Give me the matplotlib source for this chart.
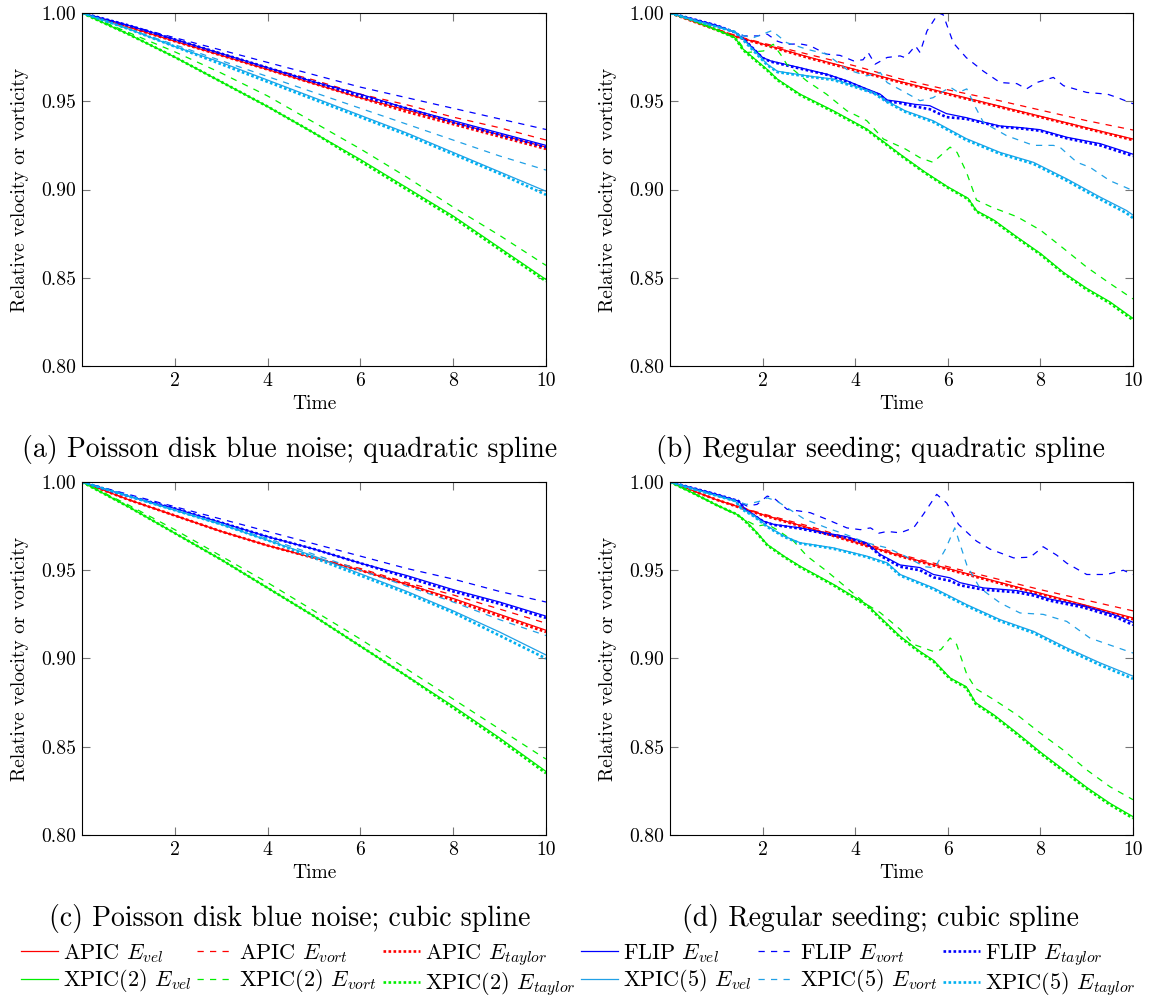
import matplotlib
matplotlib.use("Agg")
import matplotlib.pyplot as plt

plt.rcParams['font.family'] = 'serif'
plt.rcParams['font.serif'] = ['cmr10']
plt.rcParams['mathtext.fontset'] = 'cm'
plt.rcParams['axes.formatter.use_mathtext'] = True

# ---------------- data ----------------
T_SMOOTH = [0, 1, 2, 3, 4, 5, 6, 7, 8, 9, 10]

# (a) Poisson disk blue noise; quadratic spline
a_apic_vel = [1.0, 0.992, 0.984, 0.976, 0.968, 0.960, 0.952, 0.945, 0.938, 0.931, 0.924]
a_apic_vort = [1.0, 0.992, 0.985, 0.977, 0.969, 0.962, 0.954, 0.948, 0.941, 0.935, 0.928]
a_apic_taylor = [1.0, 0.992, 0.984, 0.976, 0.968, 0.960, 0.952, 0.944, 0.937, 0.930, 0.923]
a_flip_vel = [1.0, 0.993, 0.985, 0.977, 0.969, 0.961, 0.954, 0.946, 0.939, 0.932, 0.925]
a_flip_vort = [1.0, 0.993, 0.986, 0.979, 0.972, 0.965, 0.958, 0.952, 0.946, 0.940, 0.934]
a_flip_taylor = [1.0, 0.993, 0.985, 0.977, 0.969, 0.961, 0.953, 0.946, 0.938, 0.931, 0.924]
a_x2_vel = [1.0, 0.988, 0.975, 0.961, 0.947, 0.932, 0.917, 0.901, 0.885, 0.867, 0.849]
a_x2_vort = [1.0, 0.989, 0.978, 0.966, 0.953, 0.938, 0.923, 0.907, 0.890, 0.874, 0.857]
a_x2_taylor = [1.0, 0.988, 0.975, 0.961, 0.947, 0.932, 0.916, 0.900, 0.884, 0.866, 0.848]
a_x5_vel = [1.0, 0.991, 0.981, 0.972, 0.962, 0.952, 0.942, 0.932, 0.921, 0.910, 0.899]
a_x5_vort = [1.0, 0.991, 0.982, 0.973, 0.964, 0.955, 0.946, 0.937, 0.928, 0.919, 0.911]
a_x5_taylor = [1.0, 0.991, 0.981, 0.971, 0.961, 0.951, 0.941, 0.931, 0.920, 0.909, 0.897]

# (c) Poisson disk blue noise; cubic spline
c_apic_vel = [1.0, 0.990, 0.981, 0.972, 0.964, 0.957, 0.950, 0.942, 0.934, 0.925, 0.916]
c_apic_vort = [1.0, 0.990, 0.981, 0.972, 0.964, 0.957, 0.951, 0.943, 0.936, 0.928, 0.920]
c_apic_taylor = [1.0, 0.990, 0.981, 0.972, 0.964, 0.957, 0.950, 0.942, 0.933, 0.924, 0.915]
c_flip_vel = [1.0, 0.992, 0.985, 0.977, 0.969, 0.962, 0.954, 0.947, 0.939, 0.932, 0.924]
c_flip_vort = [1.0, 0.993, 0.986, 0.979, 0.972, 0.965, 0.958, 0.951, 0.945, 0.938, 0.932]
c_flip_taylor = [1.0, 0.992, 0.985, 0.977, 0.969, 0.962, 0.954, 0.946, 0.938, 0.931, 0.923]
c_x2_vel = [1.0, 0.986, 0.971, 0.956, 0.940, 0.924, 0.907, 0.890, 0.873, 0.855, 0.836]
c_x2_vort = [1.0, 0.987, 0.973, 0.958, 0.943, 0.927, 0.911, 0.894, 0.877, 0.860, 0.843]
c_x2_taylor = [1.0, 0.986, 0.971, 0.956, 0.940, 0.924, 0.907, 0.890, 0.872, 0.854, 0.835]
c_x5_vel = [1.0, 0.992, 0.984, 0.976, 0.967, 0.958, 0.948, 0.938, 0.927, 0.915, 0.902]
c_x5_vort = [1.0, 0.992, 0.984, 0.976, 0.968, 0.959, 0.950, 0.941, 0.932, 0.922, 0.913]
c_x5_taylor = [1.0, 0.992, 0.984, 0.976, 0.967, 0.957, 0.947, 0.937, 0.926, 0.913, 0.900]

# (b) Regular seeding; quadratic spline
b_apic_t = [0, 1, 1.5, 2, 3, 4, 5, 6, 7, 8, 9, 10]
b_apic_vel = [1.0, 0.9905, 0.986, 0.9825, 0.975, 0.968, 0.961, 0.9545, 0.948, 0.9415, 0.935, 0.9286]
b_apic_vort = [1.0, 0.991, 0.9865, 0.983, 0.9765, 0.970, 0.9625, 0.9565, 0.951, 0.945, 0.939, 0.9337]
b_apic_taylor = [1.0, 0.9905, 0.986, 0.9822, 0.9745, 0.9675, 0.9605, 0.954, 0.9475, 0.941, 0.9345, 0.928]

b_flip_t = [0, 0.5, 1, 1.41, 1.6, 2.0, 2.17, 2.81, 3.39, 3.82, 4.25, 4.54, 4.69, 4.97,
            5.3, 5.61, 5.97, 6.4, 6.8, 7.13, 7.6, 7.99, 8.57, 9.29, 10]
b_flip_vel = [1.0, 0.9965, 0.993, 0.989, 0.985, 0.9748, 0.9729, 0.969, 0.9653, 0.9616, 0.957,
              0.954, 0.9507, 0.9497, 0.9482, 0.9475, 0.943, 0.9407, 0.938, 0.936, 0.935,
              0.9339, 0.9296, 0.926, 0.920]
b_flip_taylor = [1.0, 0.9965, 0.993, 0.989, 0.985, 0.9745, 0.9725, 0.9685, 0.965, 0.9612, 0.9565,
                 0.9535, 0.950, 0.949, 0.947, 0.9455, 0.941, 0.940, 0.9375, 0.9355, 0.9345,
                 0.9333, 0.929, 0.925, 0.919]
b_flip_vort_t = [0, 0.5, 1, 1.41, 1.6, 1.88, 2.1, 2.32, 2.52, 2.81, 3.03, 3.38, 3.67, 3.96,
                 4.17, 4.28, 4.43, 4.69, 4.97, 5.08, 5.3, 5.4, 5.55, 5.8, 5.9, 6.12, 6.4,
                 6.77, 7.13, 7.49, 7.7, 7.92, 8.28, 8.5, 9.0, 9.45, 9.67, 10]
b_flip_vort = [1.0, 0.9965, 0.993, 0.989, 0.987, 0.987, 0.988, 0.984, 0.9823, 0.9825, 0.9814,
               0.9767, 0.976, 0.9729, 0.9735, 0.9776, 0.971, 0.9748, 0.9757, 0.9747, 0.9814,
               0.9776, 0.9898, 1.0, 0.999, 0.983, 0.9747, 0.967, 0.9606, 0.960, 0.957,
               0.9606, 0.9635, 0.9588, 0.955, 0.954, 0.952, 0.9486]

b_x2_t = [0, 0.5, 1, 1.4, 1.58, 2.1, 2.32, 2.81, 3.53, 4.25, 4.97, 5.5, 6.0, 6.44, 6.62,
          7.0, 7.5, 8.0, 8.5, 9.0, 9.5, 10]
b_x2_vel = [1.0, 0.9958, 0.9905, 0.986, 0.9795, 0.968, 0.9625, 0.954, 0.9446, 0.9343, 0.920,
            0.910, 0.9015, 0.895, 0.888, 0.8826, 0.873, 0.8638, 0.853, 0.844, 0.8364, 0.827]
b_x2_taylor = [1.0, 0.9958, 0.9905, 0.986, 0.979, 0.9675, 0.962, 0.9535, 0.944, 0.9338, 0.9195,
               0.9095, 0.901, 0.8945, 0.8875, 0.882, 0.8724, 0.8632, 0.8524, 0.8433, 0.8356, 0.826]
b_x2_vort_t = [0, 0.5, 1, 1.4, 1.48, 1.66, 2.02, 2.23, 2.41, 2.52, 2.95, 3.38, 3.82, 4.25,
               4.61, 5.08, 5.4, 5.68, 6.05, 6.2, 6.4, 6.62, 6.95, 7.5, 8.0, 8.5, 9.0, 9.5, 10]
b_x2_vort = [1.0, 0.9958, 0.9905, 0.986, 0.984, 0.9776, 0.9785, 0.9823, 0.9757, 0.971, 0.9616,
             0.954, 0.9446, 0.939, 0.9286, 0.923, 0.918, 0.9154, 0.924, 0.921, 0.910, 0.894,
             0.890, 0.8845, 0.877, 0.8666, 0.856, 0.8468, 0.838]

b_x5_t = [0, 0.5, 1, 1.41, 1.55, 2.1, 2.32, 2.97, 3.54, 3.97, 4.4, 4.69, 5.08, 5.68, 6.4,
          7.13, 7.85, 8.57, 9.29, 9.86, 10]
b_x5_vel = [1.0, 0.996, 0.9923, 0.9892, 0.986, 0.971, 0.967, 0.9644, 0.9625, 0.9588, 0.955,
            0.950, 0.9446, 0.939, 0.9288, 0.921, 0.9154, 0.906, 0.8957, 0.8881, 0.8855]
b_x5_taylor = [1.0, 0.996, 0.9923, 0.9892, 0.9855, 0.9705, 0.9665, 0.964, 0.962, 0.9583, 0.9545,
               0.9495, 0.944, 0.9383, 0.928, 0.9202, 0.9145, 0.905, 0.8945, 0.8866, 0.8838]
b_x5_vort_t = [0, 0.5, 1, 1.41, 1.6, 1.8, 2.2, 2.52, 2.95, 3.38, 3.82, 4.25, 4.54, 4.69,
               5.08, 5.4, 5.68, 6.05, 6.23, 6.41, 6.6, 6.77, 7.27, 7.85, 8.28, 8.42, 8.79,
               9.07, 9.5, 10]
b_x5_vort = [1.0, 0.996, 0.9923, 0.9892, 0.987, 0.986, 0.990, 0.9832, 0.9795, 0.9767, 0.968,
             0.9644, 0.9663, 0.9606, 0.955, 0.9503, 0.952, 0.958, 0.955, 0.957, 0.9465, 0.938,
             0.9305, 0.925, 0.925, 0.924, 0.9154, 0.9126, 0.905, 0.8994]

# (d) Regular seeding; cubic spline
d_apic_t = [0, 1, 2, 3, 4, 5, 6, 7, 8, 9, 10]
d_apic_vel = [1.0, 0.990, 0.9815, 0.974, 0.966, 0.958, 0.951, 0.944, 0.937, 0.930, 0.923]
d_apic_vort = [1.0, 0.990, 0.982, 0.975, 0.967, 0.9587, 0.952, 0.9455, 0.939, 0.933, 0.927]
d_apic_taylor = [1.0, 0.990, 0.9812, 0.9737, 0.9657, 0.9577, 0.9505, 0.9435, 0.9365, 0.9295, 0.9222]

d_flip_t = [0, 0.5, 1, 1.48, 1.63, 2.02, 2.24, 2.81, 3.39, 3.82, 4.25, 4.54, 4.97, 5.4,
            5.69, 6.05, 6.26, 6.77, 7.49, 7.85, 8.2, 8.92, 9.65, 10]
d_flip_vel = [1.0, 0.9965, 0.993, 0.9892, 0.9845, 0.9778, 0.976, 0.974, 0.971, 0.969, 0.9655,
              0.959, 0.953, 0.9515, 0.9476, 0.9457, 0.943, 0.940, 0.9385, 0.9366, 0.9337,
              0.930, 0.9243, 0.9205]
d_flip_taylor = [1.0, 0.9965, 0.993, 0.9892, 0.9842, 0.9775, 0.9757, 0.9736, 0.9705, 0.9685, 0.965,
                 0.9583, 0.952, 0.950, 0.946, 0.944, 0.9415, 0.939, 0.9375, 0.9357, 0.9328,
                 0.929, 0.9232, 0.919]
d_flip_vort_t = [0, 0.5, 1, 1.48, 1.66, 1.88, 2.1, 2.24, 2.53, 2.81, 3.03, 3.39, 3.82, 4.11,
                 4.33, 4.51, 4.69, 4.97, 5.26, 5.47, 5.76, 5.98, 6.23, 6.62, 6.91, 7.42, 7.78,
                 8.06, 8.35, 8.57, 9.0, 9.43, 9.79, 10]
d_flip_vort = [1.0, 0.9965, 0.993, 0.989, 0.9864, 0.9873, 0.992, 0.991, 0.9845, 0.9835, 0.9826,
               0.9788, 0.974, 0.973, 0.974, 0.971, 0.972, 0.9712, 0.974, 0.9816, 0.993, 0.988,
               0.976, 0.9665, 0.962, 0.957, 0.9574, 0.9633, 0.9586, 0.954, 0.9476, 0.9476,
               0.950, 0.9476]

d_x2_t = [0, 0.5, 1, 1.45, 1.63, 1.88, 2.1, 2.46, 2.81, 3.53, 4.25, 4.97, 5.4, 5.69, 6.05,
          6.4, 6.6, 7.0, 7.5, 8.0, 8.5, 9.0, 9.5, 10]
d_x2_vel = [1.0, 0.9937, 0.987, 0.9816, 0.978, 0.9713, 0.9646, 0.958, 0.9523, 0.942, 0.9306,
            0.9126, 0.904, 0.899, 0.889, 0.884, 0.875, 0.868, 0.8577, 0.847, 0.837, 0.827,
            0.818, 0.8104]
d_x2_taylor = [1.0, 0.9937, 0.987, 0.9816, 0.9776, 0.9709, 0.9642, 0.9576, 0.9518, 0.9415, 0.930,
               0.912, 0.9034, 0.8984, 0.8884, 0.8834, 0.8744, 0.8673, 0.857, 0.8462, 0.8362,
               0.8262, 0.8172, 0.8095]
d_x2_vort_t = [0, 0.5, 1, 1.48, 1.66, 1.88, 2.1, 2.31, 2.67, 2.96, 3.39, 3.82, 4.25, 4.54,
               4.97, 5.26, 5.69, 5.85, 6.05, 6.19, 6.41, 6.6, 7.0, 7.5, 8.0, 8.5, 9.0, 9.5, 10]
d_x2_vort = [1.0, 0.9937, 0.987, 0.9807, 0.978, 0.975, 0.976, 0.973, 0.9665, 0.958, 0.9494,
             0.940, 0.9306, 0.926, 0.9165, 0.908, 0.904, 0.905, 0.9116, 0.908, 0.891, 0.883,
             0.8766, 0.868, 0.8577, 0.848, 0.8369, 0.8274, 0.820]

d_x5_t = [0, 0.5, 1, 1.41, 1.55, 1.81, 2.1, 2.46, 2.81, 3.53, 4.25, 4.69, 4.97, 5.69, 6.41,
          7.13, 7.85, 8.57, 9.29, 10]
d_x5_vel = [1.0, 0.996, 0.9923, 0.9892, 0.985, 0.981, 0.975, 0.9694, 0.9656, 0.9627, 0.958,
            0.9542, 0.9476, 0.940, 0.9305, 0.922, 0.9154, 0.906, 0.8975, 0.890]
d_x5_taylor = [1.0, 0.996, 0.9923, 0.9892, 0.9846, 0.9806, 0.9746, 0.969, 0.9652, 0.9622, 0.9575,
               0.9536, 0.947, 0.9393, 0.9297, 0.9212, 0.9145, 0.905, 0.8963, 0.8885]
d_x5_vort_t = [0, 0.5, 1, 1.41, 1.66, 1.95, 2.1, 2.31, 2.53, 2.9, 3.39, 3.82, 4.25, 4.69,
               5.08, 5.5, 5.72, 5.95, 6.15, 6.41, 6.69, 7.13, 7.56, 8.06, 8.57, 9.07, 9.57, 10]
d_x5_vort = [1.0, 0.996, 0.9923, 0.9892, 0.9873, 0.9892, 0.991, 0.9892, 0.9854, 0.979, 0.974,
             0.970, 0.9655, 0.9627, 0.958, 0.952, 0.9514, 0.962, 0.974, 0.953, 0.940, 0.9315,
             0.9258, 0.925, 0.921, 0.9116, 0.907, 0.9031]

METHODS = ["APIC", "FLIP", "XPIC(2)", "XPIC(5)"]
METRIC_LABELS = [r"$E_{vel}$", r"$E_{vort}$", r"$E_{taylor}$"]
X_TICKS = [2, 4, 6, 8, 10]
Y_TICKS = [0.80, 0.85, 0.90, 0.95, 1.00]
Y_TICK_LABELS = ["0.80", "0.85", "0.90", "0.95", "1.00"]
CAPTIONS = ["(a) Poisson disk blue noise; quadratic spline",
            "(b) Regular seeding; quadratic spline",
            "(c) Poisson disk blue noise; cubic spline",
            "(d) Regular seeding; cubic spline"]

# ---------------- styling ----------------
COLORS = {"APIC": "#ff0000", "FLIP": "#0000ff", "XPIC(2)": "#00ee00", "XPIC(5)": "#20a0e6"}
TAYLOR_COLORS = {"APIC": "#ff0000", "FLIP": "#0000ff", "XPIC(2)": "#00ee00", "XPIC(5)": "#00b0f0"}
STYLES = [dict(linestyle="-", linewidth=0.9),
          dict(linestyle=(0, (5, 5)), linewidth=0.9),
          dict(linestyle=(0, (1, 0.9)), linewidth=1.9)]

W, H = 1156, 1001
fig = plt.figure(figsize=(W / 100, H / 100), dpi=100)

# axes boxes in pixels: (left, top, right, bottom)
boxes = [(82, 13, 546, 366), (670, 13, 1133, 366),
         (82, 482, 546, 835), (670, 482, 1133, 835)]


def add_axes(box):
    l, t, r, b = box
    return fig.add_axes([l / W, 1 - b / H, (r - l) / W, (b - t) / H])


def smooth(vals):
    return [(T_SMOOTH, v) for v in vals]


panels = [
    [smooth([a_apic_vel, a_apic_vort, a_apic_taylor]),
     smooth([a_flip_vel, a_flip_vort, a_flip_taylor]),
     smooth([a_x2_vel, a_x2_vort, a_x2_taylor]),
     smooth([a_x5_vel, a_x5_vort, a_x5_taylor])],
    [[(b_apic_t, b_apic_vel), (b_apic_t, b_apic_vort), (b_apic_t, b_apic_taylor)],
     [(b_flip_t, b_flip_vel), (b_flip_vort_t, b_flip_vort), (b_flip_t, b_flip_taylor)],
     [(b_x2_t, b_x2_vel), (b_x2_vort_t, b_x2_vort), (b_x2_t, b_x2_taylor)],
     [(b_x5_t, b_x5_vel), (b_x5_vort_t, b_x5_vort), (b_x5_t, b_x5_taylor)]],
    [smooth([c_apic_vel, c_apic_vort, c_apic_taylor]),
     smooth([c_flip_vel, c_flip_vort, c_flip_taylor]),
     smooth([c_x2_vel, c_x2_vort, c_x2_taylor]),
     smooth([c_x5_vel, c_x5_vort, c_x5_taylor])],
    [[(d_apic_t, d_apic_vel), (d_apic_t, d_apic_vort), (d_apic_t, d_apic_taylor)],
     [(d_flip_t, d_flip_vel), (d_flip_vort_t, d_flip_vort), (d_flip_t, d_flip_taylor)],
     [(d_x2_t, d_x2_vel), (d_x2_vort_t, d_x2_vort), (d_x2_t, d_x2_taylor)],
     [(d_x5_t, d_x5_vel), (d_x5_vort_t, d_x5_vort), (d_x5_t, d_x5_taylor)]],
]

legend_handles = []
for p, (box, series) in enumerate(zip(boxes, panels)):
    ax = add_axes(box)
    for m, method in enumerate(METHODS):
        for k in range(3):
            t, v = series[m][k]
            col = TAYLOR_COLORS[method] if k == 2 else COLORS[method]
            line, = ax.plot(t, v, color=col, **STYLES[k],
                            label=f"{method} {METRIC_LABELS[k]}")
            if p == 0:
                legend_handles.append(line)

    ax.set_xlim(0, 10)
    ax.set_ylim(0.80, 1.00)
    ax.set_xticks(X_TICKS)
    ax.set_xticklabels([str(x) for x in X_TICKS])
    ax.set_yticks(Y_TICKS)
    ax.set_yticklabels(Y_TICK_LABELS)
    ax.tick_params(direction="in", length=5.5, width=0.8, color="#777777",
                   top=True, right=True, labelsize=14.2)
    ax.tick_params(axis="y", pad=4.3)
    ax.tick_params(axis="x", pad=4.5)
    for s in ax.spines.values():
        s.set_linewidth(0.8)
    ax.set_xlabel("Time", fontsize=14)
    ax.set_ylabel("Relative velocity or vorticity", fontsize=14)
    ax.xaxis.set_label_coords(0.5, -0.083)
    ax.yaxis.set_label_coords(-0.115, 0.5)

# captions
cap_pos = [(290, 457), (880, 457), (290, 926), (880, 926)]
for (cx, cy), txt in zip(cap_pos, CAPTIONS):
    fig.text(cx / W, 1 - cy / H, txt, ha="center", va="baseline", fontsize=20)

# legend: two rows of six, matplotlib fills column-first
row1 = legend_handles[:6]
row2 = legend_handles[6:]
order = [h for pair in zip(row1, row2) for h in pair]
fig.legend(handles=order, labels=[h.get_label() for h in order], ncol=6,
           loc="center", bbox_to_anchor=(0.5, 1 - 970 / H), frameon=False,
           fontsize=16, handlelength=1.66, handletextpad=0.23,
           columnspacing=0.27, labelspacing=0.12, borderaxespad=0)

fig.savefig("out.png", dpi=100)
